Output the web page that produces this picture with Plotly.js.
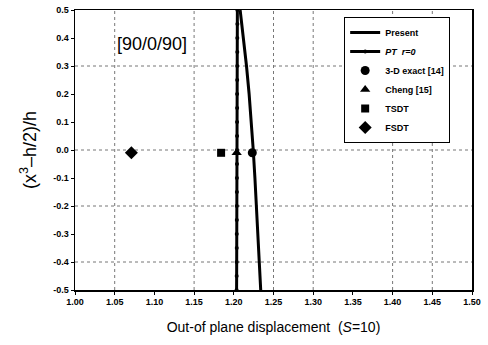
<!DOCTYPE html>
<html>
<head>
<meta charset="utf-8">
<script src="https://cdn.plot.ly/plotly-3.0.1.min.js"></script>
<style>html,body{margin:0;padding:0;background:#fff;}</style>
</head>
<body>
<div id="chart" style="width:488px;height:345px;"></div>
<script>
// Thickness coordinate (x3 - h/2)/h
const zPresent = [0.5, 0.4, 0.3, 0.2, 0.1, 0.0, -0.1, -0.2, -0.3, -0.4, -0.5];
const wPresent = [1.208, 1.2122, 1.2160, 1.2193, 1.2222, 1.2245, 1.2266, 1.2286, 1.2305, 1.2322, 1.2339];

const zPT = [0.5, 0.45, 0.4, 0.35, 0.3, 0.25, 0.2, 0.15, 0.1, 0.05, 0.0, -0.05, -0.1, -0.15, -0.2, -0.25, -0.3, -0.35, -0.4, -0.45, -0.5];
const wPT = [1.2045, 1.2045, 1.2044, 1.2044, 1.2043, 1.2043, 1.2042, 1.2042, 1.2041, 1.2041, 1.2040, 1.2040, 1.2039, 1.2039, 1.2038, 1.2038, 1.2037, 1.2037, 1.2036, 1.2036, 1.2035];

const zRef = [-0.01];
const wExact = [1.2233];
const wCheng = [1.2036];
const wTSDT = [1.184];
const wFSDT = [1.071];

const xTicks = [1.00, 1.05, 1.10, 1.15, 1.20, 1.25, 1.30, 1.35, 1.40, 1.45, 1.50];
const yTicks = [0.5, 0.4, 0.3, 0.2, 0.1, 0.0, -0.1, -0.2, -0.3, -0.4, -0.5];
const xGrid = [1.05, 1.15, 1.25, 1.30, 1.40, 1.45];
const yGrid = [0.3, 0.0, -0.2, -0.4];

const FONT = 'Liberation Sans, Arial, sans-serif';

const traces = [
  {x: wPresent, y: zPresent, name: 'Present', mode: 'lines', type: 'scatter',
   line: {color: '#000', width: 3}},
  {x: wPT, y: zPT, name: '<i>PT  r=0</i>', mode: 'lines+markers', type: 'scatter',
   line: {color: '#000', width: 3}, marker: {color: '#000', size: 4, symbol: 'circle'}},
  {x: wExact, y: zRef, name: '3-D exact [14]', mode: 'markers', type: 'scatter',
   marker: {color: '#000', size: 9, symbol: 'circle'}},
  {x: wCheng, y: zRef, name: 'Cheng [15]', mode: 'markers', type: 'scatter',
   marker: {color: '#000', size: 9, symbol: 'triangle-up'}},
  {x: wTSDT, y: zRef, name: 'TSDT', mode: 'markers', type: 'scatter',
   marker: {color: '#000', size: 8, symbol: 'square'}},
  {x: wFSDT, y: zRef, name: 'FSDT', mode: 'markers', type: 'scatter',
   marker: {color: '#000', size: 10, symbol: 'diamond'}}
];

const shapes = [];
xGrid.forEach(v => shapes.push({type: 'line', xref: 'x', yref: 'paper', x0: v, x1: v, y0: 0, y1: 1,
  line: {color: '#777', width: 1, dash: 'dot'}, layer: 'below'}));
yGrid.forEach(v => shapes.push({type: 'line', xref: 'paper', yref: 'y', x0: 0, x1: 1, y0: v, y1: v,
  line: {color: '#777', width: 1, dash: 'dot'}, layer: 'below'}));

const layout = {
  width: 488, height: 345,
  margin: {l: 75, r: 16, t: 10, b: 55},
  paper_bgcolor: '#fff', plot_bgcolor: '#fff',
  font: {family: FONT, color: '#000'},
  showlegend: true,
  legend: {x: 0.678, y: 0.975, xanchor: 'left', yanchor: 'top',
    bgcolor: '#fff', bordercolor: '#000', borderwidth: 1,
    font: {family: FONT, size: 9, color: '#000', weight: 'bold'},
    tracegroupgap: 0},
  xaxis: {range: [1.0, 1.5], tickvals: xTicks, ticktext: xTicks.map(v => v.toFixed(2)),
    showgrid: false, zeroline: false, showline: true, linecolor: '#000', linewidth: 1.5,
    mirror: true, ticks: 'outside', ticklen: 3, tickcolor: '#000',
    tickfont: {family: FONT, size: 9, weight: 'bold'},
    title: {text: 'Out-of plane displacement  (<i>S</i>=10)', font: {family: FONT, size: 14}, standoff: 16}},
  yaxis: {range: [-0.5, 0.5], tickvals: yTicks, ticktext: yTicks.map(v => v.toFixed(1)),
    showgrid: false, zeroline: false, showline: true, linecolor: '#000', linewidth: 1.5,
    mirror: true, ticks: 'outside', ticklen: 3, tickcolor: '#000',
    tickfont: {family: FONT, size: 9, weight: 'bold'},
    title: {text: '(x<sup>3</sup>\u2013h/2)/h', font: {family: FONT, size: 18}, standoff: 12}},
  shapes: shapes,
  annotations: [{text: '[90/0/90]', xref: 'paper', yref: 'paper', x: 0.195, y: 0.88,
    xanchor: 'center', yanchor: 'middle', showarrow: false,
    font: {family: FONT, size: 18, color: '#000'}}]
};

Plotly.newPlot('chart', traces, layout, {displayModeBar: false, staticPlot: true});
</script>
</body>
</html>
